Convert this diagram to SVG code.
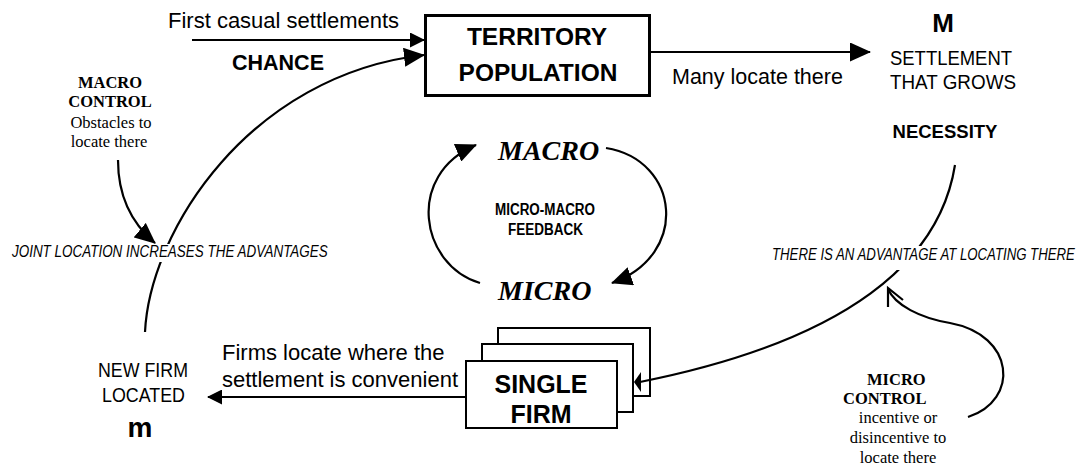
<svg xmlns="http://www.w3.org/2000/svg" width="1090" height="465" viewBox="0 0 1090 465">
<style>
.ln{fill:none;stroke:#000;stroke-width:2.2}
.sans{font-family:"Liberation Sans",Arial,sans-serif;fill:#000}
.nar{font-family:"Liberation Sans Narrow","Liberation Sans",Arial,sans-serif;fill:#000}
.ser{font-family:"Liberation Serif","Times New Roman",serif;fill:#000}
.box{fill:#fff;stroke:#000;stroke-width:2}
</style>
<defs>
<marker id="big" viewBox="0 0 21 19" refX="20" refY="9.5" markerWidth="21" markerHeight="19" orient="auto" markerUnits="userSpaceOnUse"><path d="M0,0 L21,9.5 L0,19 z" fill="#000"/></marker>
<marker id="sm" viewBox="0 0 15 15" refX="14" refY="7.5" markerWidth="15" markerHeight="15" orient="auto" markerUnits="userSpaceOnUse"><path d="M0,0 L15,7.5 L0,15 z" fill="#000"/></marker>
</defs>
<rect width="1090" height="465" fill="#fff"/>

<g id="territory-population">
<rect x="425.5" y="15.5" width="224" height="80" fill="#fff" stroke="#000" stroke-width="3"/>
<text class="sans" x="537" y="45" font-size="24.5" font-weight="bold" text-anchor="middle">TERRITORY</text>
<text class="sans" x="538" y="81" font-size="24.5" font-weight="bold" text-anchor="middle">POPULATION</text>
</g>

<g id="settlement">
<text class="sans" x="943" y="32" font-size="26" font-weight="bold" text-anchor="middle">M</text>
<text class="nar" x="890" y="65" font-size="20" textLength="122" lengthAdjust="spacingAndGlyphs">SETTLEMENT</text>
<text class="nar" x="890" y="89" font-size="20" textLength="126" lengthAdjust="spacingAndGlyphs">THAT GROWS</text>
<text class="sans" x="945" y="138" font-size="18.5" font-weight="bold" text-anchor="middle">NECESSITY</text>
</g>

<g id="macro-control">
<text class="ser" x="110" y="88" font-size="16.5" font-weight="bold" text-anchor="middle">MACRO</text>
<text class="ser" x="110" y="107" font-size="16.5" font-weight="bold" text-anchor="middle">CONTROL</text>
<text class="ser" x="111" y="128" font-size="16.5" text-anchor="middle">Obstacles to</text>
<text class="ser" x="109" y="147" font-size="16.5" text-anchor="middle">locate there</text>
</g>

<g id="macro">
<text class="ser" x="498" y="160" font-size="28" font-weight="bold" font-style="italic">MACRO</text>
</g>
<g id="feedback">
<text class="nar" x="495" y="215" font-size="16" font-weight="bold" textLength="100" lengthAdjust="spacingAndGlyphs">MICRO-MACRO</text>
<text class="nar" x="508" y="235" font-size="16" font-weight="bold" textLength="75" lengthAdjust="spacingAndGlyphs">FEEDBACK</text>
</g>
<g id="micro">
<text class="ser" x="498" y="300" font-size="28" font-weight="bold" font-style="italic">MICRO</text>
</g>

<g id="new-firm">
<text class="nar" x="98" y="377" font-size="21" textLength="90" lengthAdjust="spacingAndGlyphs">NEW FIRM</text>
<text class="nar" x="102" y="402" font-size="21" textLength="83" lengthAdjust="spacingAndGlyphs">LOCATED</text>
<text class="sans" x="140" y="437" font-size="28" font-weight="bold" text-anchor="middle">m</text>
</g>

<g id="single-firm">
<rect class="box" x="498" y="328" width="152" height="68"/>
<rect class="box" x="482" y="344" width="151" height="68"/>
<rect class="box" x="466" y="361" width="151" height="67"/>
<text class="sans" x="541" y="393" font-size="25" font-weight="bold" text-anchor="middle">SINGLE</text>
<text class="sans" x="541" y="423" font-size="25" font-weight="bold" text-anchor="middle">FIRM</text>
</g>

<g id="micro-control">
<text class="ser" x="867" y="385" font-size="16.5" font-weight="bold">MICRO</text>
<text class="ser" x="843" y="404" font-size="16.5" font-weight="bold">CONTROL</text>
<text class="ser" x="898" y="423" font-size="16.5" text-anchor="middle">incentive or</text>
<text class="ser" x="898" y="443" font-size="16.5" text-anchor="middle">disincentive to</text>
<text class="ser" x="898" y="463" font-size="16.5" text-anchor="middle">locate there</text>
</g>

<g id="connectors">
<path class="ln" d="M192,40 L424,40" marker-end="url(#sm)"/>
<path class="ln" d="M145,332 C150,230 250,75 424,55" marker-end="url(#big)"/>
<path class="ln" d="M650,52 L870,52" stroke-width="3.5" marker-end="url(#big)"/>
<path class="ln" d="M118,160 C118,195 130,222 155,243" marker-end="url(#big)"/>
<path class="ln" d="M480,283 C420,265 405,175 476,145" marker-end="url(#big)"/>
<path class="ln" d="M606,148 C680,160 690,255 612,283" marker-end="url(#big)"/>
<path class="ln" d="M955,165 C940,260 850,340 640,382"/>
<path d="M634,382 L641,372 L641,392 z" fill="#000"/>
<path class="ln" d="M466,397 L208,397" marker-end="url(#sm)"/>
<path class="ln" d="M968,417 C1020,400 1015,335 950,323 C920,318 895,305 888,289"/>
<path class="ln" d="M888,307 L888,288 L903,300"/>
</g>

<g id="connector-labels">
<rect x="140" y="244" width="35" height="18" fill="#fff"/>
<rect x="893" y="246" width="38" height="24" fill="#fff"/>
<text class="sans" x="168" y="28" font-size="22">First casual settlements</text>
<text class="sans" x="232" y="70" font-size="21.5" font-weight="bold">CHANCE</text>
<text class="sans" x="672" y="84" font-size="21.5">Many locate there</text>
<text class="sans" transform="translate(12,257) scale(0.815,1)" font-size="16.5" font-style="italic">JOINT LOCATION INCREASES THE ADVANTAGES</text>
<text class="sans" transform="translate(772,260) scale(0.8,1)" font-size="16.5" font-style="italic">THERE IS AN ADVANTAGE AT LOCATING THERE</text>
<text class="sans" x="222" y="360" font-size="22">Firms locate where the</text>
<text class="sans" x="222" y="387" font-size="22">settlement is convenient</text>
</g>
</svg>
